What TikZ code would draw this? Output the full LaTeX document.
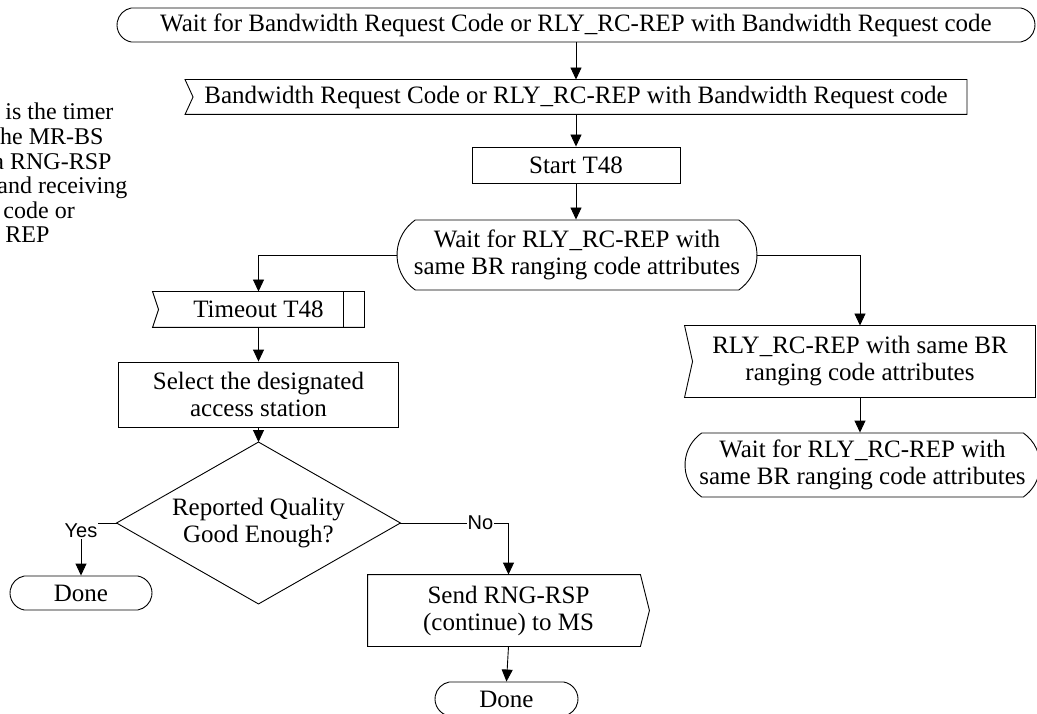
\documentclass[tikz,border=0pt]{standalone}
\usepackage{fontspec}
\setmainfont{Liberation Serif}
\newfontfamily\lsans{Liberation Sans}
\usetikzlibrary{arrows.meta,shapes.misc,calc}
\tikzset{
  base/.style={font=\fontsize{25}{27}\selectfont, inner sep=0pt, align=center},
  term/.style={base, draw, rounded rectangle, rounded rectangle arc length=160},
  waitterm/.style={base, draw, rounded rectangle, rounded rectangle arc length=110},
  procbox/.style={base, draw, rectangle},
  arr/.style={-{Triangle[length=12pt,width=11pt]}},
  lab/.style={font=\lsans\fontsize{20}{22}\selectfont, fill=white, inner sep=1pt},
  note/.style={font=\fontsize{24}{26}\selectfont, inner sep=0pt, anchor=base west},
}
\begin{document}
\begin{tikzpicture}[x=1pt,y=-1pt,line width=0.9pt]
\useasboundingbox (0,0) rectangle (1037,714);
\clip (0,0) rectangle (1037,714);

% notes (clipped at the left edge, as in the reference)
\node[note] (n1) at (5,120) {is the timer};
\node[note] (n2) at (-7,145) {the MR-BS};
\node[note] (n3) at (-7,170) {a RNG-RSP};
\node[note] (n4) at (-3,194) {and receiving};
\node[note] (n5) at (3,219) {code or};
\node[note] (n6) at (5,243) {REP};

% main column
\node[term, minimum width=918pt, minimum height=34pt] (top) at (576,25)
  {Wait for Bandwidth Request Code or RLY\_RC-REP with Bandwidth Request code};
\node[base, minimum width=781pt, minimum height=34pt] (in1) at (576,97)
  {Bandwidth Request Code or RLY\_RC-REP with Bandwidth Request code};
\draw (in1.north west) -- (in1.north east) -- (in1.south east) -- (in1.south west)
  -- ([xshift=8pt]in1.west) -- cycle;
\node[procbox, minimum width=208pt, minimum height=36pt] (start) at (576,165) {Start T48};
\node[waitterm, minimum width=360pt, minimum height=70pt] (wait1) at (577,255)
  {Wait for RLY\_RC-REP with\\same BR ranging code attributes};

% left branch
\node[base, minimum width=211pt, minimum height=35pt] (tout) at (258.5,309.5) {Timeout T48};
\draw (tout.north west) -- (tout.north east) -- (tout.south east) -- (tout.south west)
  -- ([xshift=6pt]tout.west) -- cycle;
\draw ([xshift=-21pt]tout.north east) -- ([xshift=-21pt]tout.south east);
\node[procbox, minimum width=280pt, minimum height=65pt] (sel) at (258.5,394.5)
  {Select the designated\\access station};
\node[base, minimum width=283pt, minimum height=161pt] (dia) at (258.5,523)
  {Reported Quality\\Good Enough?};
\draw (dia.north) -- (dia.east) -- (dia.south) -- (dia.west) -- cycle;
\node[term, minimum width=142pt, minimum height=34pt] (done1) at (81,593) {Done};
\node[base, minimum width=281pt, minimum height=71pt] (send) at (508.5,610.5)
  {Send RNG-RSP\\(continue) to MS};
\draw (send.north west) -- ([xshift=-9pt]send.north east) -- (send.east)
  -- ([xshift=-9pt]send.south east) -- (send.south west) -- cycle;
\node[term, minimum width=143pt, minimum height=34pt] (done2) at (506.5,699) {Done};

% right branch
\node[base, minimum width=350pt, minimum height=71pt] (rly) at (860,361.5)
  {RLY\_RC-REP with same BR\\ranging code attributes};
\draw (rly.north west) -- (rly.north east) -- (rly.south east) -- (rly.south west)
  -- ([xshift=8pt]rly.west) -- cycle;
\node[waitterm, minimum width=355pt, minimum height=64pt] (wait2) at (862.5,465)
  {Wait for RLY\_RC-REP with\\same BR ranging code attributes};

% connectors
\draw[arr] (top.south -| in1.north) -- (in1.north);
\draw[arr] (in1.south) -- (start.north);
\draw[arr] (start.south) -- (start.south |- wait1.north);
\draw[arr] (wait1.west) -| (tout.north);
\draw[arr] (wait1.east) -| (rly.north);
\draw[arr] (tout.south) -- (sel.north);
\draw[arr] (sel.south) -- (dia.north);
\draw[arr] (dia.west) -| node[lab, pos=0.5, yshift=-8pt] {Yes} (done1.north);
\draw[arr] (dia.east) -| node[lab, pos=0.37] {No} (send.north);
\draw[arr] (send.south) -- (done2.north);
\draw[arr] (rly.south) -- (rly.south |- wait2.north);
\end{tikzpicture}
\end{document}
